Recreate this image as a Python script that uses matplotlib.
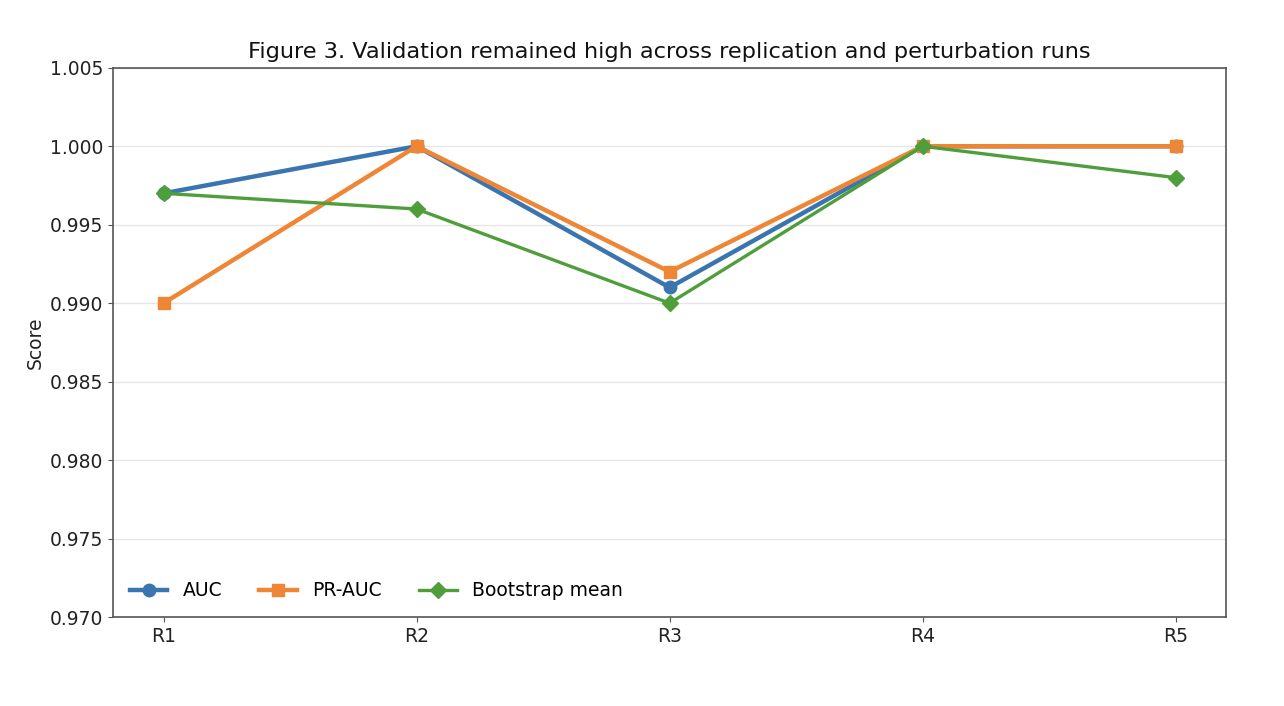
import numpy as np
import matplotlib
matplotlib.use("Agg")
import matplotlib.pyplot as plt

# run labels and scores
runs = ['R1', 'R2', 'R3', 'R4', 'R5']
auc = [0.997, 1.000, 0.991, 1.000, 1.000]
pr_auc = [0.990, 1.000, 0.992, 1.000, 1.000]
boot_mean = [0.997, 0.996, 0.990, 1.000, 0.998]

fig = plt.figure(figsize=(12.84, 7.06), dpi=100)
ax = fig.add_axes([0.088, 0.126, 0.867, 0.778])

x = np.arange(len(runs))
ax.plot(x, auc, color='#3a75b0', linewidth=3.2, marker='o', markersize=9, label='AUC')
ax.plot(x, pr_auc, color='#ef8636', linewidth=3.2, marker='s', markersize=9, label='PR-AUC')
ax.plot(x, boot_mean, color='#4f9e3c', linewidth=2.4, marker='D', markersize=8.5, label='Bootstrap mean')

yt = np.arange(0.970, 1.0051, 0.005)
ax.set_xticks(x)
ax.set_xticklabels(runs, fontsize=13.5, color='#222222')
ax.set_xlim(-0.2, 4.2)
ax.set_ylim(0.970, 1.005)
ax.set_yticks(yt)
ax.set_yticklabels(['%.3f' % v for v in yt], fontsize=13.5, color='#222222')
ax.set_ylabel('Score', fontsize=13.5, color='#222222')
ax.tick_params(color='#555555')
for s in ax.spines.values():
    s.set_color('#555555')
    s.set_linewidth(1.2)
ax.grid(axis='y', color='#e6e6e6', linewidth=1)
ax.set_axisbelow(True)

ax.set_title('Figure 3. Validation remained high across replication and perturbation runs',
             fontsize=16.2, color='#111111', pad=7)
ax.legend(loc='lower left', ncol=3, frameon=False, fontsize=13.5)

plt.savefig('out.png')
